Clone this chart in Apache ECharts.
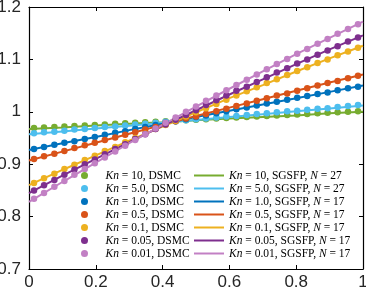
<!DOCTYPE html>
<html>
<head>
<meta charset="utf-8">
<script src="https://cdn.jsdelivr.net/npm/echarts@6/dist/echarts.min.js"></script>
<style>html,body{margin:0;padding:0;background:#fff}#c{width:366px;height:294px}</style>
</head>
<body>
<div id="c"></div>
<script>
const knLabels = ['10', '5.0', '1.0', '0.5', '0.1', '0.05', '0.01'];
const nValues = [27, 27, 17, 17, 17, 17, 17];
const colors = ['#77AC30', '#4DBEEE', '#0072BD', '#D95319', '#EDB120', '#7E2F8E', '#C280C4'];
const xTickLabels = ['0', '0.2', '0.4', '0.6', '0.8', '1'];
const yTickLabels = ['0.7', '0.8', '0.9', '1', '1.1', '1.2'];

const xDsmc = [0.015, 0.045, 0.076, 0.106, 0.136, 0.167, 0.197, 0.227, 0.258, 0.288, 0.318, 0.348, 0.379, 0.409, 0.439, 0.470, 0.500,
  0.530, 0.561, 0.591, 0.621, 0.652, 0.682, 0.712, 0.742, 0.773, 0.803, 0.833, 0.864, 0.894, 0.924, 0.955, 0.985];
const xLine = [0, 0.1, 0.2, 0.3, 0.4, 0.5, 0.6, 0.7, 0.8, 0.9, 1.0];

const dsmcKn10 = [0.969, 0.970, 0.971, 0.972, 0.973, 0.974, 0.975, 0.976, 0.977, 0.978, 0.979, 0.980, 0.981, 0.982, 0.983, 0.984, 0.985,
  0.986, 0.987, 0.988, 0.989, 0.990, 0.991, 0.992, 0.993, 0.994, 0.995, 0.996, 0.997, 0.998, 0.999, 1.000, 1.001];
const dsmcKn5 = [0.959, 0.961, 0.962, 0.964, 0.966, 0.967, 0.969, 0.971, 0.972, 0.974, 0.976, 0.977, 0.979, 0.981, 0.982, 0.984, 0.986,
  0.987, 0.989, 0.991, 0.992, 0.994, 0.996, 0.997, 0.999, 1.001, 1.002, 1.004, 1.006, 1.007, 1.009, 1.011, 1.013];
const dsmcKn1 = [0.929, 0.933, 0.937, 0.941, 0.944, 0.948, 0.952, 0.956, 0.960, 0.963, 0.967, 0.971, 0.975, 0.979, 0.982, 0.986, 0.990,
  0.993, 0.997, 1.001, 1.005, 1.008, 1.012, 1.016, 1.019, 1.023, 1.027, 1.030, 1.034, 1.037, 1.041, 1.045, 1.048];
const dsmcKn05 = [0.910, 0.915, 0.920, 0.925, 0.931, 0.936, 0.941, 0.946, 0.951, 0.956, 0.961, 0.966, 0.971, 0.977, 0.982, 0.987, 0.991,
  0.996, 1.001, 1.006, 1.011, 1.016, 1.021, 1.026, 1.031, 1.035, 1.040, 1.045, 1.050, 1.055, 1.059, 1.064, 1.069];
const dsmcKn01 = [0.864, 0.873, 0.882, 0.891, 0.899, 0.908, 0.916, 0.925, 0.933, 0.942, 0.950, 0.958, 0.967, 0.975, 0.983, 0.991, 0.999,
  1.007, 1.015, 1.023, 1.031, 1.039, 1.047, 1.055, 1.062, 1.070, 1.078, 1.085, 1.093, 1.100, 1.108, 1.115, 1.122];
const dsmcKn005 = [0.850, 0.860, 0.870, 0.880, 0.890, 0.900, 0.909, 0.919, 0.929, 0.938, 0.948, 0.957, 0.967, 0.976, 0.985, 0.994, 1.003,
  1.013, 1.022, 1.031, 1.040, 1.048, 1.057, 1.066, 1.075, 1.083, 1.092, 1.100, 1.109, 1.117, 1.125, 1.134, 1.142];
const dsmcKn001 = [0.834, 0.845, 0.857, 0.868, 0.880, 0.891, 0.902, 0.913, 0.924, 0.935, 0.946, 0.957, 0.968, 0.979, 0.989, 1.000, 1.010,
  1.021, 1.031, 1.041, 1.051, 1.061, 1.071, 1.081, 1.091, 1.101, 1.111, 1.120, 1.130, 1.139, 1.149, 1.158, 1.167];

const lineKn10 = [0.967, 0.970, 0.974, 0.977, 0.980, 0.984, 0.987, 0.990, 0.993, 0.997, 1.000];
const lineKn5 = [0.957, 0.9625, 0.968, 0.9735, 0.979, 0.9845, 0.990, 0.9955, 1.001, 1.0065, 1.012];
const lineKn1 = [0.927, 0.940, 0.952, 0.965, 0.977, 0.990, 1.002, 1.014, 1.026, 1.038, 1.050];
const lineKn05 = [0.907, 0.924, 0.941, 0.958, 0.975, 0.992, 1.008, 1.024, 1.040, 1.056, 1.071];
const lineKn01 = [0.860, 0.889, 0.917, 0.945, 0.972, 0.999, 1.026, 1.051, 1.077, 1.102, 1.126];
const lineKn005 = [0.845, 0.878, 0.910, 0.942, 0.973, 1.003, 1.033, 1.062, 1.091, 1.119, 1.146];
const lineKn001 = [0.828, 0.866, 0.903, 0.940, 0.975, 1.010, 1.044, 1.077, 1.110, 1.141, 1.172];

const dsmcSets = [dsmcKn10, dsmcKn5, dsmcKn1, dsmcKn05, dsmcKn01, dsmcKn005, dsmcKn001];
const lineSets = [lineKn10, lineKn5, lineKn1, lineKn05, lineKn01, lineKn005, lineKn001];

const dsmcNames = knLabels.map(k => 'Kn = ' + k + ', DSMC');
const lineNames = knLabels.map((k, j) => 'Kn = ' + k + ', SGSFP, N = ' + nValues[j]);
const richMap = {};
knLabels.forEach((k, j) => {
  richMap[dsmcNames[j]] = '{i|Kn} = ' + k + ', DSMC';
  richMap[lineNames[j]] = '{i|Kn} = ' + k + ', SGSFP, {i|N} = ' + nValues[j];
});

const series = [];
knLabels.forEach((k, j) => {
  series.push({
    name: lineNames[j], type: 'line', xAxisIndex: 0, yAxisIndex: 0,
    data: xLine.map((x, i) => [x, lineSets[j][i]]),
    symbol: 'none', showSymbol: false, smooth: false,
    lineStyle: { color: colors[j], width: 2 }, itemStyle: { color: colors[j] },
    z: 2, animation: false
  });
});
knLabels.forEach((k, j) => {
  series.push({
    name: dsmcNames[j], type: 'scatter', xAxisIndex: 0, yAxisIndex: 0,
    data: xDsmc.map((x, i) => [x, dsmcSets[j][i]]),
    symbol: 'circle', symbolSize: 6.5,
    itemStyle: { color: colors[j], opacity: 1 },
    z: 3, animation: false
  });
});

const legendText = {
  fontFamily: 'Liberation Serif', fontSize: 11.5, color: '#000', lineHeight: 13,
  rich: { i: { fontFamily: 'Liberation Serif', fontStyle: 'italic', fontSize: 11.5, lineHeight: 13, color: '#000' } }
};
const axisLabelStyle = { fontFamily: 'Liberation Sans', fontSize: 17, color: '#262626' };

const chart = echarts.init(document.getElementById('c'), null, { renderer: 'canvas' });
chart.setOption({
  animation: false,
  backgroundColor: '#fff',
  grid: { left: 29, right: 3, top: 7, bottom: 25, containLabel: false, outerBoundsMode: 'none' },
  legend: [
    { data: dsmcNames, orient: 'vertical', left: 81, top: 169, padding: 0, itemWidth: 32, itemHeight: 7, itemGap: 0,
      icon: 'circle', formatter: n => richMap[n], textStyle: legendText, selectedMode: false },
    { data: lineNames, orient: 'vertical', left: 194, top: 169, padding: 0, itemWidth: 30, itemHeight: 2, itemGap: 0,
      icon: 'rect', formatter: n => richMap[n], textStyle: legendText, selectedMode: false }
  ],
  xAxis: [
    { type: 'value', position: 'bottom', min: 0, max: 1, interval: 0.2,
      axisLine: { show: true, onZero: false, lineStyle: { color: '#000', width: 1.2 } },
      axisTick: { show: true, inside: true, length: 4, lineStyle: { color: '#000' } },
      axisLabel: Object.assign({ margin: 5, formatter: (v) => xTickLabels[Math.round(v / 0.2)] }, axisLabelStyle),
      splitLine: { show: false } },
    { type: 'value', position: 'top', min: 0, max: 1, interval: 0.2,
      axisLine: { show: true, onZero: false, lineStyle: { color: '#000', width: 1.2 } },
      axisTick: { show: true, inside: true, length: 4, lineStyle: { color: '#000' } },
      axisLabel: { show: false }, splitLine: { show: false } }
  ],
  yAxis: [
    { type: 'value', position: 'left', min: 0.7, max: 1.2, interval: 0.1,
      axisLine: { show: true, onZero: false, lineStyle: { color: '#000', width: 1.2 } },
      axisTick: { show: true, inside: true, length: 4, lineStyle: { color: '#000' } },
      axisLabel: Object.assign({ margin: 8, formatter: (v) => yTickLabels[Math.round((v - 0.7) / 0.1)] }, axisLabelStyle),
      splitLine: { show: false } },
    { type: 'value', position: 'right', min: 0.7, max: 1.2, interval: 0.1,
      axisLine: { show: true, onZero: false, lineStyle: { color: '#000', width: 1.2 } },
      axisTick: { show: true, inside: true, length: 4, lineStyle: { color: '#000' } },
      axisLabel: { show: false }, splitLine: { show: false } }
  ],
  series: series
});
</script>
</body>
</html>
